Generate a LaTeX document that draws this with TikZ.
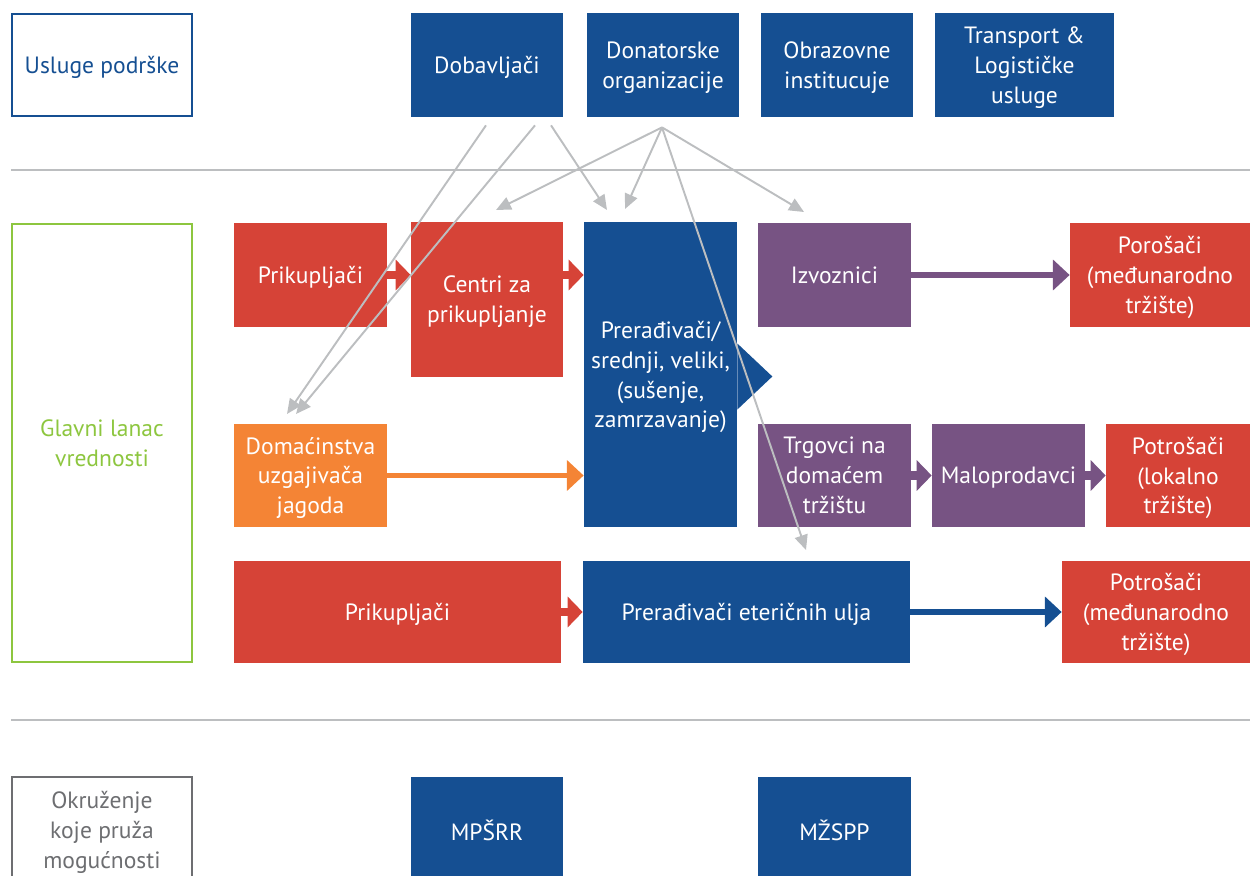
\documentclass[tikz,border=0pt]{standalone}
\usepackage{fontspec}
\setmainfont{PT Sans}
\usetikzlibrary{arrows.meta,calc}
\definecolor{dblue}{HTML}{154F92}
\definecolor{cred}{HTML}{D64337}
\definecolor{cpurple}{HTML}{775383}
\definecolor{corange}{HTML}{F48435}
\definecolor{cgreen}{HTML}{8DC63F}
\definecolor{cgrey}{HTML}{6D6E71}
\definecolor{lgrey}{HTML}{BCBEC0}
\newcommand{\pix}{0.02cm}

\begin{document}
\begin{tikzpicture}[x=0.02cm, y=-0.02cm,
  every node/.style={font=\fontsize{13.4}{17}\selectfont, text depth=-1pt},
  dim/.style 2 args={minimum width=#1*\pix, minimum height=#2*\pix},
  box/.style={rectangle, inner sep=0pt, align=center, text=white},
  frame/.style={rectangle, inner sep=0pt, align=center, draw=#1, text=#1, line width=1.2pt},
  flow/.style={draw=#1, line width=3.4pt, -{Triangle[length=9.5pt, width=17pt]}},
  shortflow/.style={draw=#1, line width=5pt, -{Triangle[length=8.5pt, width=17pt]}},
  link/.style={draw=lgrey, line width=1.1pt, -{Triangle[length=8.5pt, width=7.5pt]}}]
  \useasboundingbox (0,0) rectangle (1250,875);
  \clip (0,0) rectangle (1250,875);

  % separators
  \foreach \y in {170,720}
    \draw[lgrey, line width=1.2pt] (11,\y) -- (1250,\y);

  % support services
  \node[frame=dblue, dim={180}{102}] (usluge) at (102,65) {Usluge podrške};
  \node[box, fill=dblue, dim={152}{104}] (dob) at (487,65) {Dobavljači};
  \node[box, fill=dblue, dim={152}{104}] (don) at (663,65) {Donatorske\\organizacije};
  \node[box, fill=dblue, dim={152}{104}] (obr) at (837,65) {Obrazovne\\institucuje};
  \node[box, fill=dblue, dim={179}{104}] (trans) at (1024.5,65) {Transport \&\\Logističke\\usluge};

  % main chain
  \node[frame=cgreen, dim={180}{438}] (glavni) at (102,443) {Glavni lanac\\vrednosti};
  \node[box, fill=cred, dim={153}{104}] (prik) at (310.5,275) {Prikupljači};
  \node[box, fill=cred, dim={152}{155}] (centri) at (487,299.5) {Centri za\\prikupljanje};
  \node[box, fill=dblue, dim={153}{305}] (prer) at (660.5,374.5) {Prerađivači/\\srednji, veliki,\\(sušenje,\\zamrzavanje)};
  \fill[dblue] (prer.east) ++(0,-31) -- ++(35,33) -- ++(-35,33) -- cycle;
  \node[box, fill=cpurple, dim={153}{104}] (izv) at (834.5,275) {Izvoznici};
  \node[box, fill=cred, dim={180}{104}] (por) at (1160,275) {Porošači\\(međunarodno\\tržište)};
  \node[box, fill=corange, dim={153}{103}] (dom) at (310.5,475.5) {Domaćinstva\\uzgajivača\\jagoda};
  \node[box, fill=cpurple, dim={153}{103}] (trg) at (834.5,475.5) {Trgovci na\\domaćem\\tržištu};
  \node[box, fill=cpurple, dim={153}{103}] (malo) at (1008.5,475.5) {Maloprodavci};
  \node[box, fill=cred, dim={144}{103}] (potlok) at (1178,475.5) {Potrošači\\(lokalno\\tržište)};
  \node[box, fill=cred, dim={327}{102}] (prik2) at (397.5,612) {Prikupljači};
  \node[box, fill=dblue, dim={327}{102}] (eter) at (746.5,612) {Prerađivači eteričnih ulja};
  \node[box, fill=cred, dim={188}{102}] (potmed) at (1156,612) {Potrošači\\(međunarodno\\tržište)};

  % enabling environment
  \node[frame=cgrey, dim={180}{106}] (okr) at (102,830) {Okruženje\\koje pruža\\mogućnosti};
  \node[box, fill=dblue, dim={152}{106}] (mps) at (487,830) {MPŠRR};
  \node[box, fill=dblue, dim={153}{106}] (mzs) at (834.5,830) {MŽSPP};

  % flows
  \draw[shortflow=cred] (prik.east) -- (centri.west |- prik.east);
  \draw[shortflow=cred] (centri.east |- prik.east) -- (prer.west |- prik.east);
  \draw[flow=corange] (dom.east) -- (prer.west |- dom.east);
  \draw[flow=cpurple] (izv.east) -- (por.west);
  \draw[shortflow=cpurple] (trg.east) -- (malo.west);
  \draw[shortflow=cpurple] (malo.east) -- (potlok.west);
  \draw[shortflow=cred] (prik2.east) -- (eter.west);
  \draw[flow=dblue] (eter.east) -- (potmed.west);

  % support links
  \coordinate (d1) at ($(dob.south)+(-1,8)$);
  \coordinate (d2) at ($(dob.south)+(48,8)$);
  \coordinate (d3) at ($(dob.south)+(64,8)$);
  \coordinate (n0) at ($(don.south)+(-1,10)$);
  \coordinate (t1) at (287,414);
  \coordinate (t2) at (296,414);
  \coordinate (t3) at (607,210);
  \coordinate (t4) at (496,210);
  \coordinate (t5) at (625,209);
  \coordinate (t6) at (804,212);
  \coordinate (t7) at (806,550);
  \draw[link] (d1) -- (t1);
  \draw[link] (d2) -- (t2);
  \draw[link] (d3) -- (t3);
  \foreach \t in {t4,t5,t6,t7}
    \draw[link] (n0) -- (\t);
\end{tikzpicture}
\end{document}
